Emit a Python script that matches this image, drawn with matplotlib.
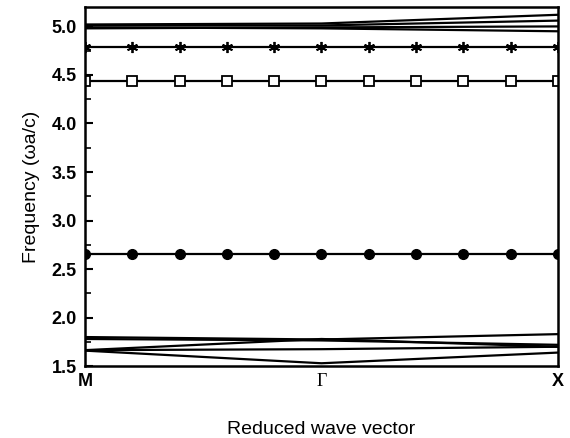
import matplotlib
matplotlib.use("Agg")
import matplotlib.pyplot as plt
import numpy as np
from matplotlib.ticker import MultipleLocator

# k-path points: M, Gamma, X
kpts = [0.0, 1.0, 2.0]
klabels = ["M", "Γ", "X"]

# bands near 5.0 (values at M, Gamma, X)
top_bands = [
    [5.02, 5.03, 5.12],
    [5.01, 5.01, 5.06],
    [4.99, 4.98, 4.95],
    [4.98, 4.99, 5.00],
]

# bands near 1.7 (values at M, Gamma, X)
low_bands = [
    [1.80, 1.775, 1.83],
    [1.78, 1.765, 1.72],
    [1.665, 1.78, 1.70],
    [1.665, 1.675, 1.70],
    [1.66, 1.53, 1.64],
]

# flat bands with markers
marker_k = [0.0, 0.2, 0.4, 0.6, 0.8, 1.0, 1.2, 1.4, 1.6, 1.8, 2.0]
star_band = 4.785
square_band = 4.44
circle_band = 2.655

fig = plt.figure(figsize=(5.7, 4.38), dpi=100)
ax = fig.add_axes([0.149, 0.164, 0.83, 0.82])

for b in top_bands + low_bands:
    ax.plot(kpts, b, color="black", lw=1.6)

ax.plot(marker_k, [star_band] * len(marker_k), color="black", lw=1.6,
        marker=(6, 2, 0), ms=8, mew=1.3)
ax.plot(marker_k, [square_band] * len(marker_k), color="black", lw=1.6,
        marker="s", ms=6.5, mfc="white", mec="black", mew=1.3)
ax.plot(marker_k, [circle_band] * len(marker_k), color="black", lw=1.6,
        marker="o", ms=7, mfc="black")

ax.set_xlim(0, 2)
ax.set_ylim(1.5, 5.2)
ax.set_xticks(kpts)
ax.set_xticklabels(klabels)
ax.tick_params(axis="x", length=0, pad=5, labelsize=13)
for lab in ax.get_xticklabels():
    lab.set_fontfamily("Liberation Sans")
    lab.set_fontweight("bold")
ax.get_xticklabels()[1].set_fontfamily("Liberation Serif")
ax.get_xticklabels()[1].set_fontweight("normal")

ax.yaxis.set_major_locator(MultipleLocator(0.5))
ax.yaxis.set_minor_locator(MultipleLocator(0.25))
ax.set_yticks(np.arange(1.5, 5.01, 0.5))
ax.set_yticklabels([f"{v:.1f}" for v in np.arange(1.5, 5.01, 0.5)],
                   fontfamily="Liberation Sans", fontweight="bold", fontsize=13)
ax.tick_params(axis="y", which="major", direction="in", length=6, width=1.5, pad=6)
ax.tick_params(axis="y", which="minor", direction="in", length=4, width=1.2)

for s in ax.spines.values():
    s.set_linewidth(1.8)

ax.set_ylabel("Frequency (ωa/c)", fontfamily="Liberation Sans", fontsize=14, labelpad=8)
ax.set_xlabel("Reduced wave vector", fontfamily="Liberation Sans", fontsize=14, labelpad=22)

fig.savefig("out.png", dpi=100)
